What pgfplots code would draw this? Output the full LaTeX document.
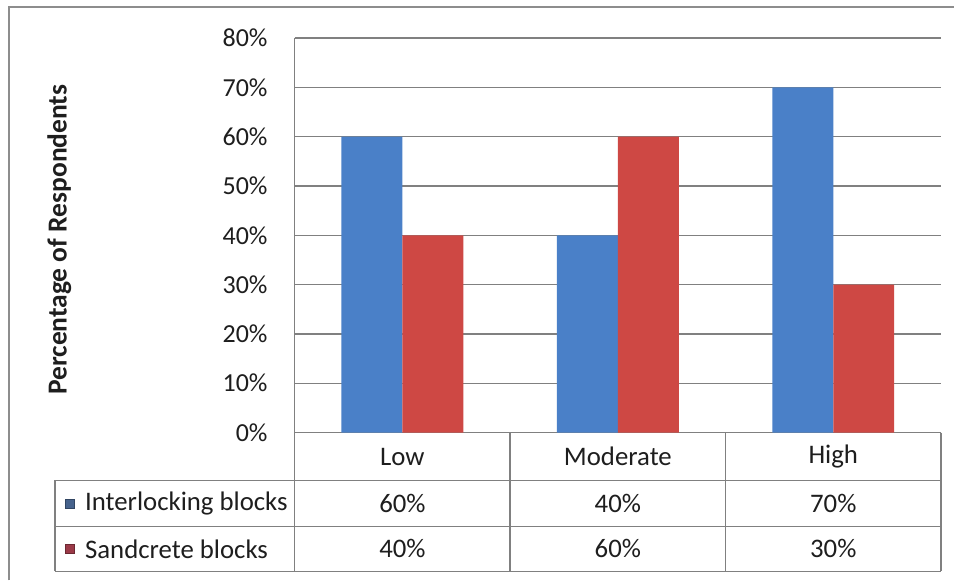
\documentclass[border=0pt]{standalone}
\usepackage{pgfplots}
\usepackage{pgfplotstable}
\pgfplotsset{compat=1.18}
\usepackage{fontspec}
\setmainfont{Carlito}

\definecolor{barblue}{RGB}{74,128,200}
\definecolor{barred}{RGB}{206,72,68}
\definecolor{keyblue}{RGB}{70,98,140}
\definecolor{keyred}{RGB}{155,58,72}
\definecolor{gridgray}{RGB}{128,128,128}
\definecolor{txt}{RGB}{30,30,30}

% Perceived level by block type (percent of respondents)
\pgfplotstableread{
cat name     I  S
0   Low      60 40
1   Moderate 40 60
2   High     70 30
}\data

\newcommand{\chartfont}{\fontsize{26}{31}\selectfont}
\newcommand{\tablefont}{\fontsize{26.8}{32}\selectfont}

\begin{document}
\begin{tikzpicture}[x=1pt,y=1pt]
  % canvas and frame
  \path[fill=white] (0,0) rectangle (955,581);
  \draw[gridgray!90, line width=2pt] (9,0) -- (9,574) -- (955,574);

  \begin{axis}[
    at={(295pt,148pt)}, anchor=south west,
    scale only axis, width=647pt, height=395pt,
    xmin=-0.5, xmax=2.5, ymin=0, ymax=80,
    xtick=\empty,
    ytick={0,10,...,80},
    yticklabel={\pgfmathprintnumber{\tick}\%},
    /pgf/number format/assume math mode=true,
    yticklabel style={font=\chartfont, text=txt, anchor=east, inner sep=0pt, xshift=-27pt},
    major tick length=0pt,
    ymajorgrids,
    grid style={gridgray, line width=1.3pt},
    axis x line*=bottom, axis y line*=left,
    axis line style={gridgray, line width=1.3pt, -},
    ybar=0pt, bar width=61pt,
    clip=false,
  ]
    \addplot[fill=barblue, draw=none] table[x=cat, y=I] {\data};
    \addplot[fill=barred, draw=none] table[x=cat, y=S] {\data};
  \end{axis}

  % data table grid
  \begin{scope}[gridgray, line width=1.3pt]
    \draw (55,100) -- (942,100);
    \draw (55,54) -- (942,54);
    \draw (55,9) -- (942,9);
    \draw (55,100) -- (55,9);
    \draw (295,148) -- (295,9);
    \draw (510.67,148) -- (510.67,9);
    \draw (726.33,148) -- (726.33,9);
    \draw (942,148) -- (942,9);
  \end{scope}

  % row headers with series keys
  \fill[keyblue, draw=keyblue!70!black, line width=0.5pt] (65,72.5) rectangle (74,81.5);
  \node[anchor=west, font=\tablefont, text=txt, inner sep=0pt] at (85,77) {Interlocking blocks};
  \fill[keyred, draw=keyred!70!black, line width=0.5pt] (65,27) rectangle (74,36);
  \node[anchor=west, font=\tablefont, text=txt, inner sep=0pt] at (85,31.5) {Sandcrete blocks};

  % category names and values
  \foreach \i in {0,1,2} {
    \pgfplotstablegetelem{\i}{name}\of\data
    \node[font=\tablefont, text=txt] at ({295+215.667*(\i+0.5)},124) {\pgfplotsretval};
    \pgfplotstablegetelem{\i}{I}\of\data
    \node[font=\tablefont, text=txt] at ({295+215.667*(\i+0.5)},77) {\pgfplotsretval\%};
    \pgfplotstablegetelem{\i}{S}\of\data
    \node[font=\tablefont, text=txt] at ({295+215.667*(\i+0.5)},31.5) {\pgfplotsretval\%};
  }

  % axis title
  \node[rotate=90, font=\fontsize{27.5}{33}\selectfont\bfseries, text=txt] at (59.5,341) {Percentage of Respondents};
\end{tikzpicture}
\end{document}
